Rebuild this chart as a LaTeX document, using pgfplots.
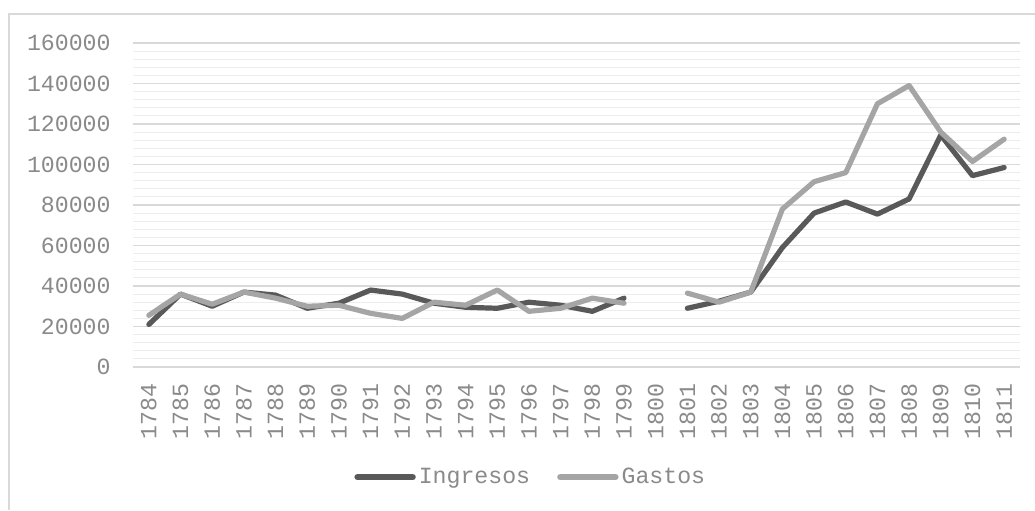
\documentclass[border=0pt]{standalone}
\usepackage{pgfplots}
\pgfplotsset{compat=1.18}
\usepackage{pgfplotstable}
\usepackage{fontspec}
\setmainfont{Liberation Mono}
\definecolor{ing}{HTML}{595959}
\definecolor{gas}{HTML}{A5A5A5}
\definecolor{gridmaj}{HTML}{D9D9D9}
\definecolor{gridmin}{HTML}{EDEDED}
\definecolor{ticktext}{HTML}{8A8A8A}
\definecolor{frame}{HTML}{D9D9D9}
\pgfplotstableread{
idx year ingresos gastos
0 1784 21000 25500
1 1785 36000 36000
2 1786 30000 31000
3 1787 37000 37000
4 1788 35500 34000
5 1789 29000 30000
6 1790 31500 30500
7 1791 38000 26500
8 1792 36000 24000
9 1793 31500 32000
10 1794 29500 30500
11 1795 29000 38000
12 1796 32000 27500
13 1797 30500 29000
14 1798 27500 34000
15 1799 34000 31500
16 1800 nan nan
17 1801 29000 36500
18 1802 32500 32000
19 1803 37000 37000
20 1804 59000 78000
21 1805 76000 91500
22 1806 81500 96000
23 1807 75500 130000
24 1808 83000 139000
25 1809 114500 116000
26 1810 94500 101500
27 1811 98500 112500
}\datatable
\begin{document}
\begin{tikzpicture}
\useasboundingbox (0,0) rectangle (517.5pt,255pt);
\fill[white] (0,0) rectangle (517.5pt,255pt);
\draw[frame, line width=1pt] (4.5pt,0) -- (4.5pt,248pt) -- (517.5pt,248pt);
\begin{axis}[
  at={(66.5pt,71.5pt)}, anchor=south west,
  scale only axis, width=443.5pt, height=162pt,
  xmin=-0.5, xmax=27.5, ymin=0, ymax=160000,
  axis line style={draw=none},
  major tick length=0pt, minor tick length=0pt,
  xtick={0,...,27},
  xticklabels={1784,1785,1786,1787,1788,1789,1790,1791,1792,1793,1794,1795,1796,1797,1798,1799,1800,1801,1802,1803,1804,1805,1806,1807,1808,1809,1810,1811},
  ytick={0,20000,...,160000},
  minor y tick num=4,
  ymajorgrids, yminorgrids,
  major grid style={gridmaj, line width=0.75pt},
  minor grid style={gridmin, line width=0.5pt},
  scaled y ticks=false,
  /pgf/number format/fixed,
  /pgf/number format/1000 sep={},
  /pgf/number format/assume math mode=true,
  tick label style={font=\fontsize{11.6}{13}\selectfont, text=ticktext, inner sep=0pt},
  xticklabel style={rotate=90, anchor=east},
  xticklabel shift=8pt,
  yticklabel shift=11pt,
  unbounded coords=jump,
  legend columns=2,
  legend style={at={(0.449,-0.34)}, anchor=center, draw=none, fill=none,
    font=\fontsize{11.6}{13}\selectfont, text=ticktext,
    /tikz/every even column/.append style={column sep=12pt},
    nodes={inner sep=1.5pt}},
  legend image code/.code={\draw[#1, line cap=round, line width=3.2pt] (0pt,0pt) -- (27.5pt,0pt);},
]
\addplot[ing, line width=2.6pt, line join=round, line cap=round] table[x=idx, y=ingresos] {\datatable};
\addlegendentry{Ingresos}
\addplot[gas, line width=2.6pt, line join=round, line cap=round] table[x=idx, y=gastos] {\datatable};
\addlegendentry{Gastos}
\end{axis}
\end{tikzpicture}
\end{document}
